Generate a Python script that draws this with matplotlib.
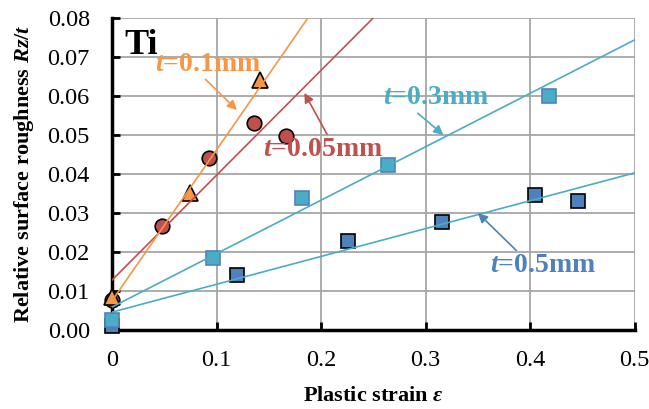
import matplotlib
matplotlib.use('Agg')
import matplotlib.pyplot as plt

plt.rcParams['font.family'] = ['Liberation Serif', 'DejaVu Serif']
plt.rcParams['mathtext.fontset'] = 'custom'
plt.rcParams['mathtext.rm'] = 'Liberation Serif:bold'
plt.rcParams['mathtext.it'] = 'Liberation Serif:italic:bold'
plt.rcParams['mathtext.bf'] = 'Liberation Serif:bold'

x_01 = [0.0, 0.0746, 0.142]
y_01 = [0.0085, 0.0351, 0.0641]
x_005 = [0.0, 0.048, 0.093, 0.136, 0.166]
y_005 = [0.0077, 0.0267, 0.0441, 0.0531, 0.0497]
x_03 = [0.0, 0.0966, 0.182, 0.264, 0.418]
y_03 = [0.0025, 0.0185, 0.0338, 0.0423, 0.060]
x_05 = [0.0, 0.120, 0.2257, 0.3155, 0.4045, 0.4455]
y_05 = [0.0010, 0.0141, 0.0228, 0.0277, 0.0346, 0.0331]

# trend lines (intercept, slope) as drawn in the picture
line_01 = (0.0075, 0.387)
line_005 = (0.0128, 0.269)
line_03 = (0.0059, 0.137)
line_05 = (0.0046, 0.0714)

xticks = [0, 0.1, 0.2, 0.3, 0.4, 0.5]
xticklabels = ['0', '0.1', '0.2', '0.3', '0.4', '0.5']
yticks = [0, 0.01, 0.02, 0.03, 0.04, 0.05, 0.06, 0.07, 0.08]
yticklabels = ['0.00', '0.01', '0.02', '0.03', '0.04', '0.05', '0.06', '0.07', '0.08']

c_orange = '#F79646'
c_red = '#C0504D'
c_cyan = '#4BACC6'
c_blue = '#4F81BD'

fig = plt.figure(figsize=(6.49, 4.09), dpi=100)
ax = fig.add_axes([0.1726, 0.193, 0.8054, 0.763])

ax.plot(x_05, y_05, 's', ms=10.5, mfc=c_blue, mec='black', mew=1.2, zorder=6, clip_on=False)
ax.plot(x_03, y_03, 's', ms=10.5, mfc=c_cyan, mec=c_blue, mew=1.2, zorder=6, clip_on=False)
ax.plot(x_005, y_005, 'o', ms=10.5, mfc=c_red, mec='black', mew=1.2, zorder=6, clip_on=False)
ax.plot(x_01, y_01, '^', ms=11, mfc=c_orange, mec='black', mew=1.2, zorder=6, clip_on=False)

lx = [0, 0.5]
for (b, m), c in [(line_05, c_cyan), (line_03, c_cyan), (line_005, c_red), (line_01, c_orange)]:
    ax.plot(lx, [b, b + m * 0.5], '-', color=c, lw=1.2, zorder=7)

ax.set_xlim(0, 0.5)
ax.set_ylim(0, 0.08)
ax.set_xticks(xticks)
ax.set_xticklabels(xticklabels)
ax.set_yticks(yticks)
ax.set_yticklabels(yticklabels)
ax.tick_params(direction='in', length=6, width=2, labelsize=17.5)
ax.tick_params(axis='y', pad=16)
ax.tick_params(axis='x', pad=14)
ax.grid(True, color='#A6A6A6', lw=1.3)
ax.set_axisbelow(True)
for s in ['top', 'right']:
    ax.spines[s].set_visible(False)
for s in ['left', 'bottom']:
    ax.spines[s].set_linewidth(2.5)
    ax.spines[s].set_zorder(5)

ax.set_xlabel(r'Plastic strain $\varepsilon$', fontsize=16, fontweight='bold', labelpad=11)
ax.set_ylabel(r'Relative surface roughness $Rz/t$', fontsize=16, fontweight='bold', labelpad=8)

ax.text(0.012, 0.0707, 'Ti', fontsize=26, fontweight='bold', color='black')

arrow = dict(arrowstyle='-|>', lw=1.2, mutation_scale=14)
ax.annotate(r'$t$=0.1mm', xy=(0.1195, 0.0564), xytext=(0.041, 0.0682),
            fontsize=20, color=c_orange, fontweight='bold', va='center', zorder=8,
            arrowprops=dict(arrow, color=c_orange, shrinkA=0, shrinkB=0, relpos=(0.45, 0)))
ax.annotate(r'$t$=0.05mm', xy=(0.184, 0.0608), xytext=(0.144, 0.0463),
            fontsize=20, color=c_red, fontweight='bold', va='center', zorder=8,
            arrowprops=dict(arrow, color=c_red, shrinkA=0, shrinkB=0, relpos=(0.55, 1)))
ax.annotate(r'$t$=0.3mm', xy=(0.317, 0.0500), xytext=(0.259, 0.0595),
            fontsize=20, color=c_cyan, fontweight='bold', va='center', zorder=8,
            arrowprops=dict(arrow, color=c_cyan, shrinkA=0, shrinkB=0, relpos=(0.3, 0)))
ax.annotate(r'$t$=0.5mm', xy=(0.350, 0.0300), xytext=(0.362, 0.0165),
            fontsize=20, color=c_blue, fontweight='bold', va='center', zorder=8,
            arrowprops=dict(arrow, color=c_blue, shrinkA=0, shrinkB=0, relpos=(0.27, 1)))

fig.savefig('out.png', dpi=100)
